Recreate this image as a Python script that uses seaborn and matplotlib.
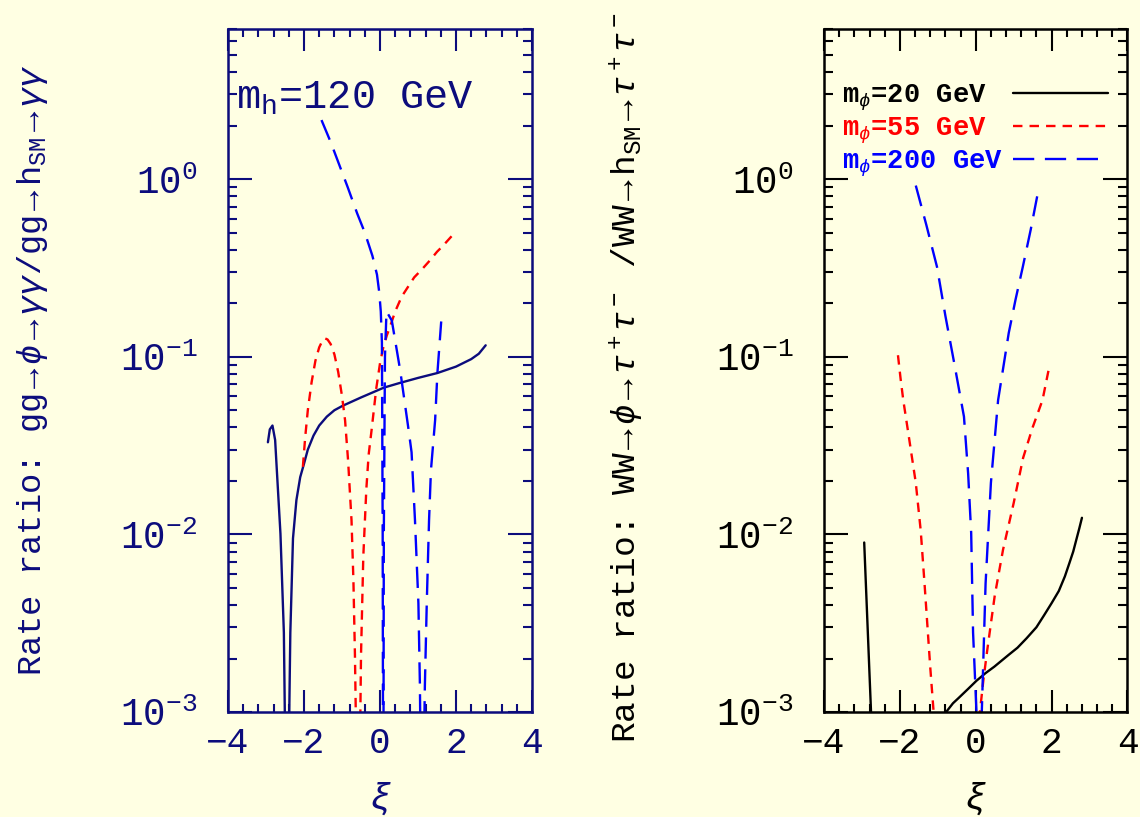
import numpy as np
import pandas as pd
import seaborn as sns
import matplotlib.pyplot as plt
from matplotlib.ticker import MultipleLocator, LogLocator

# ---- left panel: gg -> phi -> gamma gamma  (m_h = 120 GeV)
xi_gg_20 = [-2.95, -2.9, -2.83, -2.76, -2.72, -2.62, -2.53, -2.45, -2.36, -2.29, -2.2, -2.1,
            -2.0, -1.9, -1.75, -1.6, -1.4, -1.2, -0.98, -0.5, 0.1, 0.5, 1.0, 1.51, 2.0, 2.4,
            2.6, 2.78]
rr_gg_20 = [0.033, 0.039, 0.041, 0.034, 0.024, 0.0101, 0.0028, 0.0001, 0.0028, 0.0095, 0.0156,
            0.021, 0.025, 0.03, 0.036, 0.041, 0.046, 0.05, 0.053, 0.059, 0.067, 0.071, 0.076,
            0.081, 0.088, 0.097, 0.104, 0.116]

xi_gg_55 = [-2.03, -1.97, -1.9, -1.8, -1.7, -1.6, -1.5, -1.45, -1.38, -1.3, -1.2, -1.1, -1.0,
            -0.92, -0.84, -0.75, -0.7, -0.66, -0.57, -0.5, -0.44, -0.36, -0.3, -0.22, -0.1,
            0.0, 0.09, 0.18, 0.26, 0.4, 0.57, 0.75, 0.9, 1.1, 1.32, 1.5, 1.65, 1.97]
rr_gg_55 = [0.024, 0.035, 0.05, 0.072, 0.095, 0.113, 0.125, 0.127, 0.125, 0.118, 0.103, 0.082,
            0.06, 0.044, 0.026, 0.012, 0.0055, 0.0021, 0.0001, 0.0021, 0.0075, 0.018, 0.028,
            0.039, 0.066, 0.092, 0.114, 0.132, 0.147, 0.18, 0.218, 0.25, 0.28, 0.31, 0.35,
            0.39, 0.42, 0.5]

xi_gg_200 = [-1.54, -1.3, -1.07, -0.85, -0.6, -0.4, -0.2, -0.08, -0.02, 0.02, 0.05, 0.07, 0.085,
             0.1, 0.13, 0.17, 0.31, 0.53, 0.75, 0.83, 0.92, 1.01, 1.05, 1.1, 1.18, 1.23, 1.29,
             1.34, 1.45, 1.51, 1.61]
rr_gg_200 = [2.15, 1.62, 1.2, 0.9, 0.64, 0.5, 0.37, 0.29, 0.23, 0.18, 0.12, 0.01, 0.0001, 0.01,
             0.1, 0.18, 0.16, 0.084, 0.039, 0.029, 0.012, 0.0041, 0.0014, 0.0001, 0.0014, 0.0041,
             0.012, 0.023, 0.044, 0.081, 0.158]

# ---- right panel: WW -> phi -> tau tau
xi_ww_20 = [-2.94, -2.85, -2.76, -2.6, -0.9, -0.78, -0.6, -0.45, -0.2, 0.02, 0.25, 0.49, 0.87,
            1.1, 1.34, 1.6, 1.8, 2.0, 2.19, 2.35, 2.47, 2.57, 2.65, 2.73, 2.8]
rr_ww_20 = [0.009, 0.003, 0.001, 0.0001, 0.0001, 0.001, 0.00112, 0.0012, 0.00135, 0.0015,
            0.00165, 0.0018, 0.0021, 0.0023, 0.0026, 0.003, 0.0035, 0.0041, 0.0048, 0.0058,
            0.0069, 0.008, 0.0093, 0.0108, 0.0124]

xi_ww_55 = [-2.05, -1.98, -1.91, -1.75, -1.58, -1.45, -1.35, -1.2, -1.11, -0.5, 0.11, 0.2, 0.3,
            0.5, 0.72, 1.0, 1.25, 1.5, 1.76, 1.92]
rr_ww_55 = [0.102, 0.075, 0.057, 0.034, 0.0195, 0.0105, 0.0053, 0.0018, 0.001, 0.0001, 0.001,
            0.0015, 0.0022, 0.0045, 0.0082, 0.015, 0.027, 0.04, 0.057, 0.084]

xi_ww_200 = [-1.58, -1.3, -1.02, -0.8, -0.55, -0.31, -0.2, -0.12, -0.07, 0.02, 0.09, 0.16, 0.26,
             0.4, 0.59, 0.87, 1.05, 1.24, 1.45, 1.62]
rr_ww_200 = [0.92, 0.55, 0.32, 0.17, 0.088, 0.046, 0.022, 0.0102, 0.0028, 0.001, 0.0001, 0.001,
             0.0053, 0.0195, 0.057, 0.136, 0.21, 0.32, 0.52, 0.8]

masses = ['20', '55', '200']
legend_labels = [r'm$_{\phi}$=20 GeV', r'm$_{\phi}$=55 GeV', r'm$_{\phi}$=200 GeV']

BG = '#ffffe3'
NAVY = '#0c0c7c'


def make_frame(pairs):
    parts = []
    for m, (xs, ys) in zip(masses, pairs):
        parts.append(pd.DataFrame({'xi': xs, 'ratio': ys, 'mass': m}))
    return pd.concat(parts, ignore_index=True)


def style_axis(ax, color):
    ax.set_yscale('log')
    ax.set_xlim(-4, 4)
    ax.set_ylim(1e-3, 7)
    ax.set_facecolor(BG)
    ax.xaxis.set_major_locator(MultipleLocator(2))
    ax.xaxis.set_minor_locator(MultipleLocator(0.4))
    ax.yaxis.set_major_locator(LogLocator(base=10, numticks=10))
    ax.yaxis.set_minor_locator(LogLocator(base=10, subs=np.arange(2, 10), numticks=20))
    ax.tick_params(which='both', direction='in', top=True, right=True, colors=color, width=1.5)
    ax.tick_params(axis='x', which='major', length=16, pad=10, labelsize=26)
    ax.tick_params(axis='x', which='minor', length=5.5)
    ax.tick_params(axis='y', which='major', length=17, pad=22, labelsize=27)
    ax.tick_params(axis='y', which='minor', length=6.5)
    for s in ax.spines.values():
        s.set_color(color)
        s.set_linewidth(1.8)
    ax.set_xlabel(r'$\xi$', fontsize=26, color=color, labelpad=14)


sns.set_theme(style='ticks')
plt.rcParams['font.family'] = ['Liberation Mono', 'DejaVu Sans']
plt.rcParams['mathtext.fontset'] = 'custom'
plt.rcParams['mathtext.rm'] = 'Liberation Mono'
plt.rcParams['mathtext.it'] = 'Liberation Mono:italic'
plt.rcParams['mathtext.bf'] = 'Liberation Mono:bold'
plt.rcParams['axes.unicode_minus'] = True

fig = plt.figure(figsize=(11.4, 8.17), dpi=100)
fig.patch.set_facecolor(BG)
ax_l = fig.add_axes([0.2, 0.1285, 0.2667, 0.836])
ax_r = fig.add_axes([0.7228, 0.1285, 0.2662, 0.836])

dash_map = {'20': '', '55': (4, 3), '200': (9, 4.5)}

df_gg = make_frame([(xi_gg_20, rr_gg_20), (xi_gg_55, rr_gg_55), (xi_gg_200, rr_gg_200)])
sns.lineplot(data=df_gg, x='xi', y='ratio', hue='mass', style='mass', hue_order=masses,
             style_order=masses, palette={'20': NAVY, '55': '#ff0000', '200': '#0000ff'},
             dashes=dash_map, estimator=None, sort=False, linewidth=1.7, legend=False, ax=ax_l)
style_axis(ax_l, NAVY)
ax_l.set_ylabel(r'Rate ratio: gg$\rightarrow\phi\rightarrow\gamma\gamma$/gg$\rightarrow$h$_{\rm SM}\rightarrow\gamma\gamma$',
                fontsize=24.3, color=NAVY)
ax_l.yaxis.set_label_coords(-0.585, 0.5)
ax_l.text(0.026, 0.884, r'm$_{\rm h}$=120 GeV', transform=ax_l.transAxes, fontsize=29,
          color=NAVY, va='baseline', ha='left')

df_ww = make_frame([(xi_ww_20, rr_ww_20), (xi_ww_55, rr_ww_55), (xi_ww_200, rr_ww_200)])
sns.lineplot(data=df_ww, x='xi', y='ratio', hue='mass', style='mass', hue_order=masses,
             style_order=masses, palette={'20': 'black', '55': '#ff0000', '200': '#0000ff'},
             dashes=dash_map, estimator=None, sort=False, linewidth=1.7, legend=False, ax=ax_r)
style_axis(ax_r, 'black')
ax_r.set_ylabel(r'Rate ratio: WW$\rightarrow\phi\rightarrow\tau^+\tau^-$ /WW$\rightarrow$h$_{\rm SM}\rightarrow\tau^+\tau^-$',
                fontsize=24.8, color='black')
ax_r.yaxis.set_label_coords(-0.585, 0.49)

# legend: labels left-aligned, line samples right-aligned
handles = ax_r.get_lines()[:3]
leg_prop = {'family': 'Liberation Mono', 'weight': 'bold', 'size': 19.5}
leg_text = ax_r.legend(handles, legend_labels, loc='upper left', bbox_to_anchor=(0.059, 0.922),
                       frameon=False, handlelength=0, handletextpad=0, labelspacing=0.1,
                       borderpad=0, borderaxespad=0, labelcolor='linecolor', prop=leg_prop)
for h in leg_text.legend_handles:
    h.set_visible(False)
ax_r.add_artist(leg_text)
leg_lines = ax_r.legend(handles, legend_labels, loc='upper right', bbox_to_anchor=(0.936, 0.922),
                        frameon=False, markerfirst=False, handlelength=3.5, handletextpad=0.3,
                        labelspacing=0.1, borderpad=0, borderaxespad=0, prop=leg_prop)
for t in leg_lines.get_texts():
    t.set_alpha(0)

fig.savefig('out.png', dpi=100, facecolor=BG)
